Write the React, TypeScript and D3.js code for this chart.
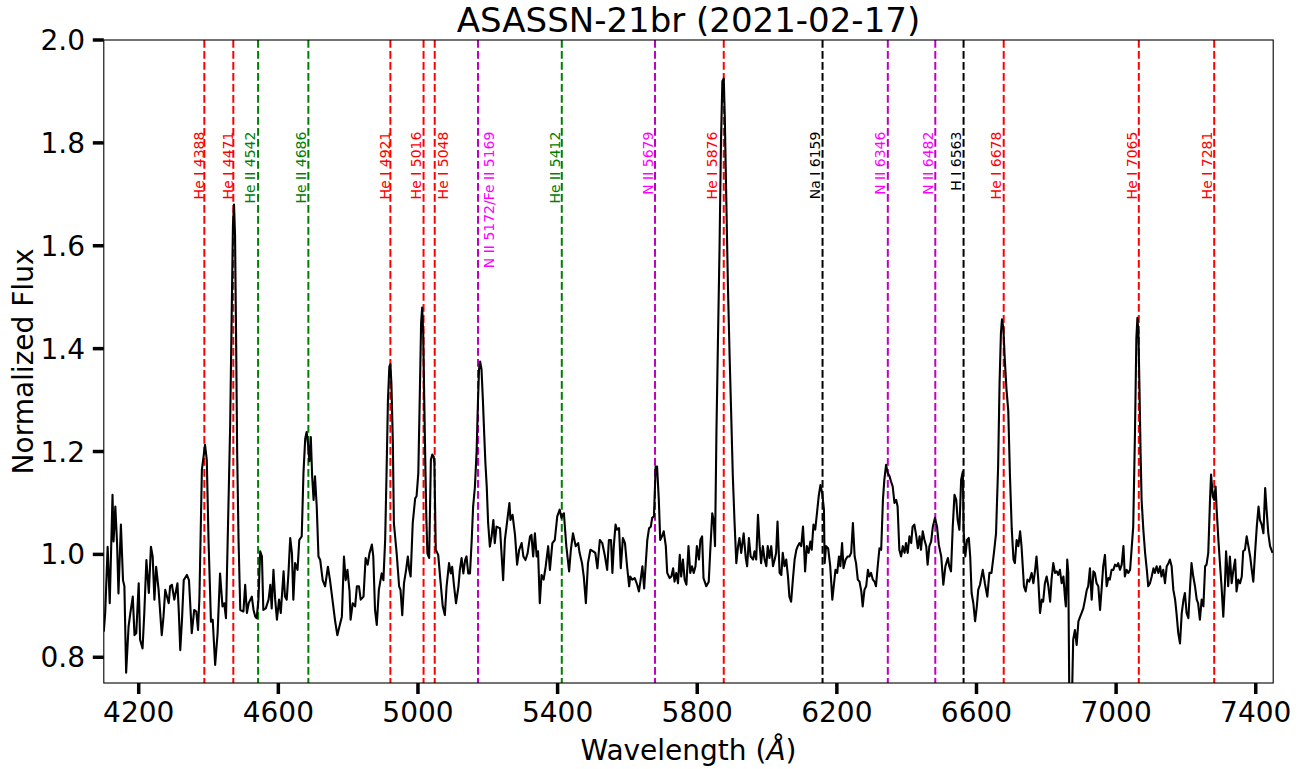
import React from "react";
import * as d3 from "d3";

const wavelengths = [
  4100, 4104, 4111, 4117, 4125, 4128, 4133, 4138, 4142, 4149, 4155, 4159, 4164, 4171, 4176, 4183, 4188, 4193, 4200, 4204,
  4211, 4216, 4222, 4229, 4235, 4240, 4245, 4250, 4257, 4266, 4271, 4276, 4281, 4286, 4290, 4295, 4302, 4311, 4315, 4319,
  4324, 4329, 4338, 4344, 4352, 4359, 4365, 4370, 4374, 4381, 4386, 4390, 4395, 4400, 4407, 4412, 4419, 4426, 4433, 4440,
  4445, 4450, 4457, 4462, 4466, 4470, 4473, 4476, 4479, 4482, 4486, 4491, 4500, 4505, 4510, 4515, 4524, 4529, 4534, 4538,
  4543, 4548, 4553, 4557, 4564, 4572, 4577, 4581, 4586, 4591, 4596, 4602, 4607, 4615, 4619, 4624, 4629, 4634, 4639, 4643,
  4648, 4655, 4660, 4667, 4672, 4677, 4681, 4685, 4689, 4693, 4697, 4701, 4705, 4710, 4715, 4720, 4727, 4734, 4742, 4748,
  4755, 4763, 4769, 4775, 4782, 4788, 4793, 4798, 4804, 4807, 4813, 4820, 4825, 4831, 4836, 4844, 4850, 4856, 4861, 4868,
  4872, 4877, 4882, 4888, 4896, 4901, 4906, 4910, 4914, 4918, 4921, 4924, 4928, 4931, 4939, 4946, 4950, 4955, 4960, 4966,
  4971, 4975, 4979, 4985, 4992, 4996, 5001, 5005, 5009, 5012, 5015, 5018, 5021, 5024, 5027, 5032, 5037, 5041, 5045, 5047,
  5051, 5058, 5065, 5071, 5077, 5082, 5089, 5094, 5098, 5103, 5109, 5116, 5120, 5125, 5130, 5135, 5139, 5144, 5149, 5154,
  5158, 5163, 5168, 5172, 5175, 5178, 5182, 5186, 5190, 5193, 5197, 5201, 5206, 5211, 5216, 5220, 5225, 5235, 5244, 5249,
  5256, 5262, 5265, 5271, 5278, 5284, 5290, 5297, 5302, 5308, 5314, 5321, 5325, 5330, 5335, 5340, 5344, 5349, 5354, 5360,
  5366, 5373, 5378, 5385, 5392, 5399, 5406, 5411, 5418, 5425, 5433, 5438, 5444, 5452, 5459, 5463, 5470, 5475, 5481, 5487,
  5494, 5502, 5508, 5514, 5521, 5528, 5535, 5542, 5547, 5553, 5557, 5561, 5566, 5570, 5576, 5581, 5587, 5593, 5599, 5605,
  5608, 5614, 5621, 5628, 5633, 5638, 5643, 5648, 5652, 5657, 5662, 5667, 5671, 5676, 5681, 5685, 5690, 5694, 5699, 5704,
  5710, 5714, 5721, 5726, 5731, 5735, 5740, 5745, 5750, 5754, 5759, 5764, 5769, 5775, 5780, 5785, 5790, 5795, 5799, 5805,
  5809, 5814, 5818, 5826, 5833, 5837, 5843, 5847, 5851, 5855, 5859, 5864, 5868, 5872, 5876, 5879, 5883, 5888, 5893, 5897,
  5902, 5907, 5912, 5917, 5921, 5926, 5933, 5939, 5943, 5948, 5953, 5960, 5964, 5969, 5974, 5979, 5983, 5988, 5993, 5998,
  6002, 6007, 6012, 6017, 6022, 6026, 6030, 6036, 6041, 6045, 6050, 6055, 6060, 6064, 6069, 6074, 6079, 6084, 6088, 6093,
  6098, 6103, 6106, 6109, 6114, 6119, 6124, 6128, 6133, 6138, 6143, 6148, 6153, 6158, 6163, 6165, 6169, 6175, 6181, 6187,
  6191, 6196, 6201, 6206, 6210, 6215, 6219, 6225, 6231, 6236, 6241, 6246, 6251, 6255, 6260, 6265, 6270, 6274, 6279, 6284,
  6289, 6293, 6298, 6303, 6308, 6312, 6317, 6322, 6327, 6332, 6336, 6341, 6346, 6351, 6355, 6360, 6365, 6370, 6374, 6379,
  6384, 6389, 6394, 6398, 6403, 6408, 6413, 6417, 6422, 6427, 6432, 6437, 6441, 6446, 6451, 6456, 6460, 6465, 6470, 6475,
  6481, 6487, 6492, 6499, 6505, 6511, 6518, 6522, 6527, 6532, 6537, 6542, 6546, 6551, 6556, 6561, 6563, 6568, 6573, 6578,
  6582, 6586, 6591, 6596, 6601, 6605, 6610, 6618, 6624, 6631, 6637, 6643, 6650, 6656, 6662, 6666, 6670, 6673, 6677, 6681,
  6686, 6691, 6696, 6701, 6706, 6710, 6715, 6720, 6725, 6729, 6736, 6741, 6746, 6751, 6758, 6763, 6768, 6772, 6777, 6782,
  6787, 6791, 6796, 6801, 6806, 6811, 6815, 6820, 6825, 6830, 6834, 6839, 6844, 6849, 6854, 6856, 6860, 6863, 6866, 6869,
  6873, 6877, 6882, 6887, 6892, 6897, 6901, 6906, 6911, 6916, 6920, 6925, 6930, 6935, 6939, 6944, 6949, 6954, 6959, 6963,
  6968, 6973, 6978, 6982, 6987, 6992, 6997, 7002, 7006, 7011, 7016, 7021, 7025, 7030, 7035, 7040, 7045, 7049, 7054, 7058,
  7061, 7064, 7067, 7070, 7073, 7078, 7083, 7088, 7092, 7097, 7102, 7107, 7111, 7116, 7121, 7126, 7130, 7135, 7140, 7145,
  7150, 7154, 7159, 7164, 7169, 7173, 7178, 7183, 7188, 7193, 7197, 7202, 7207, 7212, 7216, 7221, 7226, 7231, 7235, 7240,
  7245, 7250, 7255, 7259, 7264, 7269, 7272, 7277, 7281, 7285, 7288, 7293, 7298, 7302, 7307, 7312, 7315, 7319, 7321, 7326,
  7331, 7336, 7341, 7345, 7350, 7355, 7360, 7364, 7369, 7374, 7379, 7384, 7388, 7393, 7398, 7403, 7408, 7412, 7417, 7422,
  7427, 7431, 7436, 7441, 7448,
];

const fluxes = [
  0.850, 0.886, 1.015, 0.905, 1.116, 1.025, 1.093, 1.022, 0.924, 1.058, 0.950, 0.938, 0.770, 0.860, 0.886, 0.918, 0.843, 0.847, 0.944, 0.834,
  0.817, 0.886, 0.989, 0.925, 1.015, 0.996, 0.912, 0.976, 0.931, 0.843, 0.879, 0.931, 0.918, 0.905, 0.938, 0.941, 0.912, 0.944, 0.886, 0.814,
  0.873, 0.950, 0.960, 0.950, 0.847, 0.892, 0.889, 0.853, 0.918, 1.165, 1.191, 1.213, 1.184, 1.028, 0.869, 0.873, 0.785, 0.847, 0.963, 0.899,
  0.905, 0.876, 1.093, 1.250, 1.450, 1.640, 1.680, 1.620, 1.420, 1.200, 1.028, 0.892, 0.889, 0.941, 0.886, 0.905, 0.918, 0.892, 0.879, 0.876,
  0.912, 1.006, 0.996, 0.892, 0.895, 0.912, 0.941, 0.895, 0.970, 0.912, 0.873, 0.912, 0.886, 0.967, 0.918, 0.912, 0.963, 1.032, 1.002, 0.912,
  0.983, 0.970, 1.028, 1.035, 1.158, 1.225, 1.238, 1.215, 1.181, 1.228, 1.150, 1.106, 1.152, 1.093, 0.996, 0.989, 0.950, 0.938, 0.976, 0.950,
  0.912, 0.869, 0.843, 0.860, 0.879, 0.996, 0.950, 0.970, 0.928, 0.873, 0.905, 0.899, 0.938, 0.938, 0.912, 0.918, 0.993, 0.980, 1.002, 1.019,
  0.996, 0.892, 0.863, 0.931, 0.963, 0.950, 1.028, 1.158, 1.300, 1.365, 1.370, 1.330, 1.220, 1.061, 1.002, 0.938, 0.931, 0.882, 0.944, 0.970,
  0.996, 0.970, 0.957, 1.061, 1.109, 1.113, 1.158, 1.300, 1.450, 1.480, 1.430, 1.300, 1.180, 1.070, 1.002, 0.993, 1.184, 1.194, 1.190, 1.178,
  1.009, 0.999, 0.944, 0.899, 0.882, 0.938, 0.983, 0.963, 0.976, 0.941, 0.905, 0.938, 0.970, 0.993, 0.963, 0.989, 0.996, 0.963, 0.963, 1.028,
  1.093, 1.130, 1.200, 1.300, 1.360, 1.375, 1.360, 1.300, 1.230, 1.180, 1.132, 1.061, 1.015, 1.035, 1.067, 1.022, 1.054, 1.051, 0.950, 1.028,
  1.067, 1.100, 1.067, 1.077, 1.038, 0.980, 1.009, 1.022, 0.996, 0.989, 1.002, 1.035, 1.038, 0.996, 1.041, 0.996, 1.006, 0.905, 0.960, 0.951,
  0.977, 1.016, 0.970, 1.022, 1.028, 1.074, 1.087, 1.071, 1.080, 1.016, 0.967, 1.009, 1.041, 1.016, 1.022, 1.003, 0.983, 0.957, 0.905, 0.983,
  1.009, 1.006, 1.003, 0.973, 1.028, 1.022, 0.999, 0.970, 1.028, 1.028, 0.964, 1.016, 1.058, 1.048, 1.051, 0.973, 1.032, 1.022, 0.977, 0.938,
  0.957, 0.951, 0.954, 0.941, 0.928, 0.951, 0.977, 0.934, 0.977, 1.028, 1.051, 1.054, 1.071, 1.074, 1.171, 1.171, 1.106, 1.028, 1.035, 1.045,
  1.016, 0.964, 0.954, 0.957, 0.973, 0.947, 0.964, 0.944, 0.999, 0.957, 0.990, 0.951, 0.941, 1.016, 0.964, 0.977, 0.964, 0.977, 1.016, 0.990,
  1.028, 1.035, 0.954, 0.938, 0.947, 1.003, 1.080, 1.067, 1.016, 1.236, 1.400, 1.600, 1.800, 1.920, 1.925, 1.850, 1.700, 1.520, 1.380, 1.280,
  1.152, 1.061, 0.983, 1.016, 1.032, 1.003, 1.041, 0.993, 0.977, 1.032, 0.996, 0.990, 1.006, 0.990, 1.077, 1.016, 0.983, 1.016, 0.990, 0.977,
  1.016, 0.993, 1.016, 0.977, 0.990, 1.003, 1.064, 0.964, 0.960, 1.003, 0.977, 0.990, 0.957, 0.918, 0.908, 0.951, 0.990, 1.009, 1.016, 1.022,
  1.016, 1.054, 1.016, 0.967, 1.016, 1.003, 1.025, 1.009, 1.058, 1.048, 1.080, 1.113, 1.135, 1.119, 1.087, 0.983, 1.016, 1.012, 0.977, 0.912,
  0.938, 0.970, 0.964, 0.996, 0.977, 1.022, 0.973, 0.990, 0.996, 0.996, 1.003, 1.061, 0.996, 0.983, 0.951, 0.947, 0.928, 0.899, 0.931, 0.938,
  0.970, 0.957, 0.964, 0.951, 0.947, 0.938, 0.977, 1.012, 1.009, 1.106, 1.145, 1.174, 1.158, 1.152, 1.142, 1.132, 1.100, 1.106, 1.093, 1.009,
  0.996, 1.016, 1.003, 1.022, 1.003, 1.035, 1.022, 1.054, 1.058, 1.038, 1.012, 1.035, 1.009, 1.045, 1.028, 1.016, 0.980, 1.016, 1.025, 1.054,
  1.071, 1.054, 1.019, 0.996, 0.941, 0.977, 0.993, 0.977, 0.967, 1.054, 1.116, 1.106, 1.067, 1.048, 1.145, 1.161, 1.048, 0.996, 1.028, 1.032,
  0.996, 0.925, 0.905, 0.870, 0.899, 0.931, 0.941, 0.970, 0.944, 0.918, 0.964, 0.964, 1.003, 1.041, 1.171, 1.330, 1.430, 1.457, 1.440, 1.380,
  1.320, 1.280, 1.150, 1.050, 0.990, 0.983, 1.028, 1.016, 1.045, 1.016, 0.938, 0.928, 0.951, 0.947, 0.964, 0.944, 0.970, 0.996, 0.951, 0.886,
  0.912, 0.908, 0.944, 0.957, 0.938, 0.908, 0.951, 0.983, 0.964, 0.967, 0.960, 0.970, 0.944, 0.957, 0.912, 0.899, 0.990, 0.964, 0.720, 0.690,
  0.700, 0.834, 0.853, 0.824, 0.870, 0.879, 0.886, 0.895, 0.912, 0.931, 0.938, 0.973, 0.912, 0.967, 0.964, 0.944, 0.938, 0.892, 0.938, 0.977,
  0.999, 0.938, 0.954, 0.951, 0.970, 0.970, 0.980, 0.977, 0.983, 0.970, 0.980, 1.016, 0.957, 0.970, 0.964, 0.970, 1.016, 1.054, 1.236, 1.420,
  1.460, 1.430, 1.320, 1.200, 1.106, 1.048, 1.003, 0.970, 0.938, 0.944, 0.957, 0.973, 0.964, 0.977, 0.964, 0.977, 0.957, 0.970, 0.944, 0.977,
  0.983, 0.990, 0.977, 0.931, 0.912, 0.886, 0.847, 0.827, 0.886, 0.912, 0.925, 0.886, 0.876, 0.938, 0.983, 0.957, 0.938, 0.912, 0.905, 0.873,
  0.912, 0.899, 0.977, 0.980, 1.003, 1.106, 1.155, 1.113, 1.106, 1.132, 1.087, 1.028, 0.977, 0.938, 0.879, 0.947, 1.006, 0.964, 0.938, 0.996,
  0.944, 0.970, 0.990, 0.928, 0.951, 0.944, 0.957, 1.006, 1.009, 1.035, 1.016, 0.996, 0.973, 0.947, 1.003, 1.054, 1.093, 1.067, 1.058, 1.041,
  1.129, 1.087, 1.041, 1.016, 1.003,
];

const lineWavelengths = [4388, 4471, 4542, 4686, 4921, 5016, 5048, 5172, 5412, 5679, 5876, 6159, 6346, 6482, 6563, 6678, 7065, 7281];
const lineLabels = [
  "He I 4388", "He I 4471", "He II 4542", "He II 4686", "He I 4921", "He I 5016", "He I 5048",
  "N II 5172/Fe II 5169", "He II 5412", "N II 5679", "He I 5876", "Na I 6159", "N II 6346", "N II 6482",
  "H I 6563", "He I 6678", "He I 7065", "He I 7281",
];
const lineSpecies = [
  "HeI", "HeI", "HeII", "HeII", "HeI", "HeI", "HeI", "NII", "HeII", "NII", "HeI", "NaI", "NII", "NII",
  "HI", "HeI", "HeI", "HeI",
];

// label baseline nudge from its line, in pixels (layout only)
const labelNudge = [-0.5, -0.5, -3, -2.3, 0, -2.3, 13, 15.6, -1.8, -2.3, -6.5, -2.8, -2.5, -2.3, -2.3, -3, -2.3, -2.3];

const xTicks = [4200, 4600, 5000, 5400, 5800, 6200, 6600, 7000, 7400];
const yTicks = [0.8, 1.0, 1.2, 1.4, 1.6, 1.8, 2.0];

const title = "ASASSN-21br (2021-02-17)";

const lineColor: Record<string, string> = {
  HeI: "#ff0000",
  HeII: "#008000",
  NII: "#bf00bf",
  NaI: "#000000",
  HI: "#000000",
};
const textColor: Record<string, string> = {
  HeI: "#ff0000",
  HeII: "#008000",
  NII: "#ff00ff",
  NaI: "#000000",
  HI: "#000000",
};

export default function App() {
  const W = 1311;
  const H = 769;
  const left = 103.8;
  const right = 1273.2;
  const top = 40;
  const bottom = 683;
  const font = "'DejaVu Sans', sans-serif";

  const x = d3.scaleLinear().domain([4100, 7450]).range([left, right]);
  const y = d3.scaleLinear().domain([0.75, 2.0]).range([bottom, top]);

  const pts = wavelengths.map((w, i) => [w, fluxes[i]] as [number, number]);
  const path = d3
    .line<[number, number]>()
    .x((d) => x(d[0]))
    .y((d) => y(d[1]))(pts) as string;

  const labelTop = y(1.822);

  return (
    <svg
      width={W}
      height={H}
      style={{ position: "absolute", left: 0, top: 0, background: "#fff" }}
      fontFamily={font}
    >
      <defs>
        <clipPath id="plotclip">
          <rect x={left} y={top} width={right - left} height={bottom - top} />
        </clipPath>
      </defs>
      <rect x={0} y={0} width={W} height={H} fill="#fff" />

      {/* line labels */}
      {lineWavelengths.map((w, i) => (
        <text
          key={"lt" + i}
          transform={`translate(${x(w) + labelNudge[i]},${labelTop}) rotate(-90)`}
          textAnchor="end"
          fontSize={14}
          fill={textColor[lineSpecies[i]]}
        >
          {lineLabels[i]}
        </text>
      ))}

      {/* vertical identification lines */}
      <g clipPath="url(#plotclip)">
        {lineWavelengths.map((w, i) => (
          <line
            key={"vl" + i}
            x1={x(w)}
            x2={x(w)}
            y1={top}
            y2={bottom}
            stroke={lineColor[lineSpecies[i]]}
            strokeWidth={2}
            strokeDasharray="7.7,3.3"
          />
        ))}
      </g>

      {/* spectrum */}
      <g clipPath="url(#plotclip)">
        <path d={path} fill="none" stroke="#000" strokeWidth={2.1} strokeLinejoin="round" />
      </g>

      {/* spines */}
      <rect
        x={left}
        y={top}
        width={right - left}
        height={bottom - top}
        fill="none"
        stroke="#000"
        strokeWidth={1.1}
      />

      {/* x ticks */}
      {xTicks.map((t) => (
        <g key={"xt" + t}>
          <line x1={x(t)} x2={x(t)} y1={bottom} y2={bottom + 11} stroke="#000" strokeWidth={3.5} />
          <text x={x(t)} y={722} textAnchor="middle" fontSize={28} fill="#000">
            {t}
          </text>
        </g>
      ))}

      {/* y ticks */}
      {yTicks.map((t) => (
        <g key={"yt" + t}>
          <line x1={left - 11} x2={left} y1={y(t)} y2={y(t)} stroke="#000" strokeWidth={3.5} />
          <text x={85} y={y(t) + 10} textAnchor="end" fontSize={28} fill="#000">
            {d3.format(".1f")(t)}
          </text>
        </g>
      ))}

      {/* title */}
      <text x={(left + right) / 2} y={32} textAnchor="middle" fontSize={34} fill="#000">
        {title}
      </text>

      {/* x label */}
      <text x={(left + right) / 2} y={760} textAnchor="middle" fontSize={28} fill="#000">
        Wavelength (<tspan fontStyle="italic">Å</tspan>)
      </text>

      {/* y label */}
      <text
        transform={`translate(33,${(top + bottom) / 2}) rotate(-90)`}
        textAnchor="middle"
        fontSize={28}
        fill="#000"
      >
        Normalized Flux
      </text>
    </svg>
  );
}
